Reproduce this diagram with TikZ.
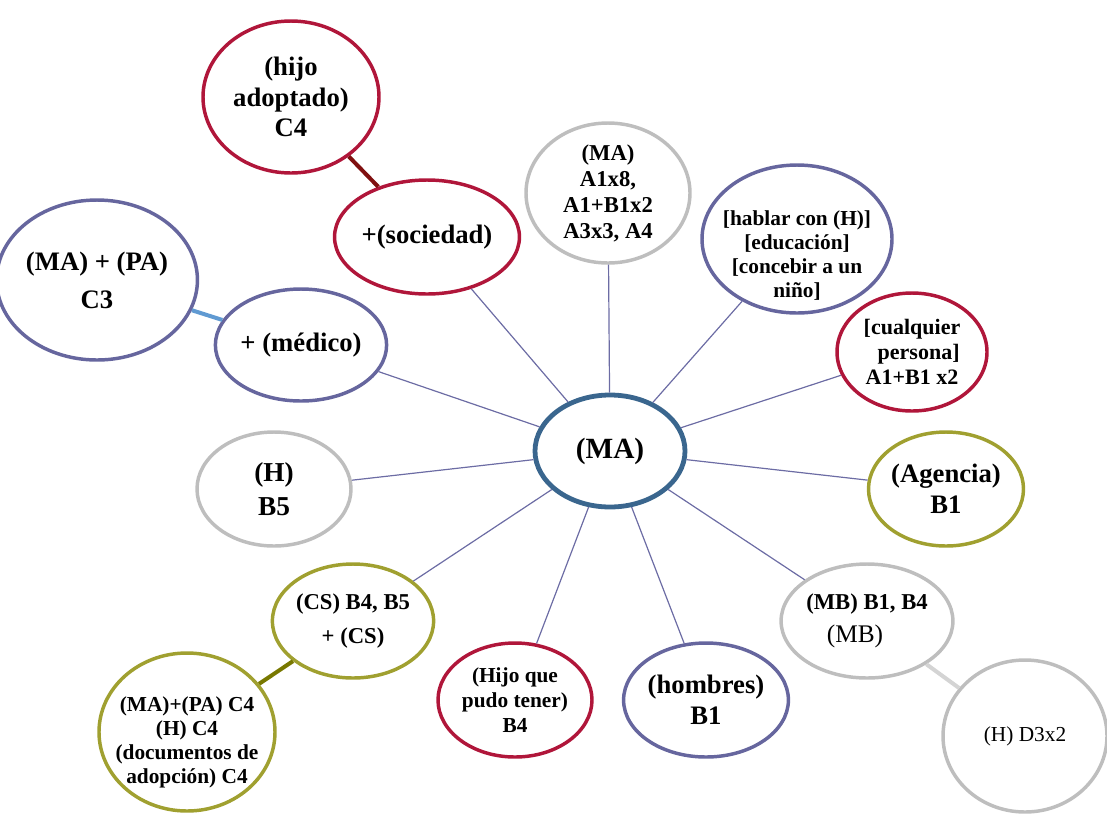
\documentclass[tikz,border=0pt]{standalone}
\usepackage{fontspec}
\setmainfont{Liberation Serif}
\usetikzlibrary{shapes.geometric}

\definecolor{rojo}{RGB}{176,22,58}
\definecolor{rojoosc}{RGB}{128,16,16}
\definecolor{lila}{RGB}{102,102,158}
\definecolor{gris}{RGB}{190,190,190}
\definecolor{grisclaro}{RGB}{212,212,212}
\definecolor{oliva}{RGB}{160,160,48}
\definecolor{olivaosc}{RGB}{120,120,0}
\definecolor{azul}{RGB}{58,102,142}
\definecolor{celeste}{RGB}{96,154,210}
\definecolor{rayos}{RGB}{108,108,164}

\tikzset{
  burbuja/.style={ellipse, draw, line width=2.6pt, fill=white, inner sep=0pt,
    align=center, font=\bfseries},
  roja/.style={burbuja, draw=rojo},
  morada/.style={burbuja, draw=lila},
  gris/.style={burbuja, draw=gris},
  verde/.style={burbuja, draw=oliva},
  centro/.style={burbuja, draw=azul, line width=3.6pt},
  texto/.style={draw=none, fill=none, align=center},
  rayo/.style={draw=rayos, line width=0.9pt},
  enlace/.style={line width=3pt}
}

\begin{document}
\begin{tikzpicture}[x=0.75pt, y=-0.75pt]
   \useasboundingbox (0,0) rectangle (1107,815);

   \node [centro, minimum width=112.5pt, minimum height=84pt,
      font=\bfseries\fontsize{22}{26}\selectfont] (ma) at (610,451) {(MA)};

   \node [roja, minimum width=132pt, minimum height=114pt,
      font=\bfseries\fontsize{20}{23}\selectfont] (hijoad) at (291,97) {(hijo\\ adoptado)\\ C4};
   \node [roja, minimum width=112.5pt, minimum height=85.5pt,
      font=\bfseries\fontsize{20}{23}\selectfont] (sociedad) at (427,237) {+(sociedad)};
   \node [morada, minimum width=132pt, minimum height=120pt,
      font=\bfseries\fontsize{20}{28.5}\selectfont] (mapa) at (97,280) {(MA) + (PA)\\ C3};
   \node [morada, minimum width=114pt, minimum height=84pt,
      font=\bfseries\fontsize{20}{23}\selectfont] (medico) at (301,345) {+ (médico)};
   \node [gris, minimum width=123pt, minimum height=105pt,
      font=\bfseries\fontsize{17}{19.5}\selectfont] (maa) at (608,193) {(MA)\\ A1x8,\\ A1+B1x2\\ A3x3, A4};
   \node [morada, minimum width=142.5pt, minimum height=111pt,
      label={[texto, font=\bfseries\fontsize{16}{18}\selectfont, yshift=-12.5pt]center:{[hablar con (H)]\\{}[educación]\\{}[concebir a un\\ niño]}}]
      (hablar) at (797,239) {};
   \node [roja, minimum width=112.5pt, minimum height=88.5pt,
      font=\bfseries\fontsize{16.5}{19}\selectfont] (cualquier) at (912,352) {[cualquier\\ \hspace*{10pt}persona]\\ A1+B1 x2};
   \node [verde, minimum width=114pt, minimum height=85.5pt,
      font=\bfseries\fontsize{20}{23}\selectfont] (agencia) at (946,489) {(Agencia)\\ B1};
   \node [gris, minimum width=112.5pt, minimum height=85.5pt,
      font=\bfseries\fontsize{17}{25}\selectfont] (mb) at (867,621) {(MB) B1, B4\\ {\mdseries\fontsize{19}{25}\selectfont (MB)}\hspace*{18pt}};
   \node [gris, minimum width=123pt, minimum height=114pt,
      font=\mdseries\fontsize{16}{19}\selectfont] (hd) at (1025,736) {(H) D3x2};
   \node [morada, minimum width=114pt, minimum height=85.5pt,
      font=\bfseries\fontsize{20}{23}\selectfont] (hombres) at (706,700) {(hombres)\\ B1};
   \node [roja, minimum width=115.5pt, minimum height=85.5pt,
      font=\bfseries\fontsize{16}{19}\selectfont] (hijoque) at (515,700) {(Hijo que\\ pudo tener)\\ B4};
   \node [verde, minimum width=114pt, minimum height=85.5pt,
      font=\bfseries\fontsize{17}{26}\selectfont] (cs) at (353,621) {(CS) B4, B5\\ + (CS)};
   \node [verde, minimum width=132pt, minimum height=118.5pt,
      label={[texto, font=\bfseries\fontsize{16}{18}\selectfont, yshift=-8pt]center:{(MA)+(PA) C4\\ (H) C4\\ (documentos de\\ adopción) C4}}]
      (docs) at (187,732) {};
   \node [gris, minimum width=115.5pt, minimum height=85.5pt,
      font=\bfseries\fontsize{20.5}{25}\selectfont] (hb5) at (274,489) {(H)\\ B5};

   \foreach \n in {medico, sociedad, maa, hablar, cualquier, agencia, mb, hombres, hijoque, cs, hb5}
      \draw [rayo] (ma) -- (\n);

   \draw [enlace, draw=rojoosc] (hijoad) -- (sociedad);
   \draw [enlace, draw=celeste] (mapa) -- (medico);
   \draw [enlace, draw=olivaosc] (cs) -- (docs);
   \draw [enlace, draw=grisclaro] (mb) -- (hd);
\end{tikzpicture}
\end{document}
